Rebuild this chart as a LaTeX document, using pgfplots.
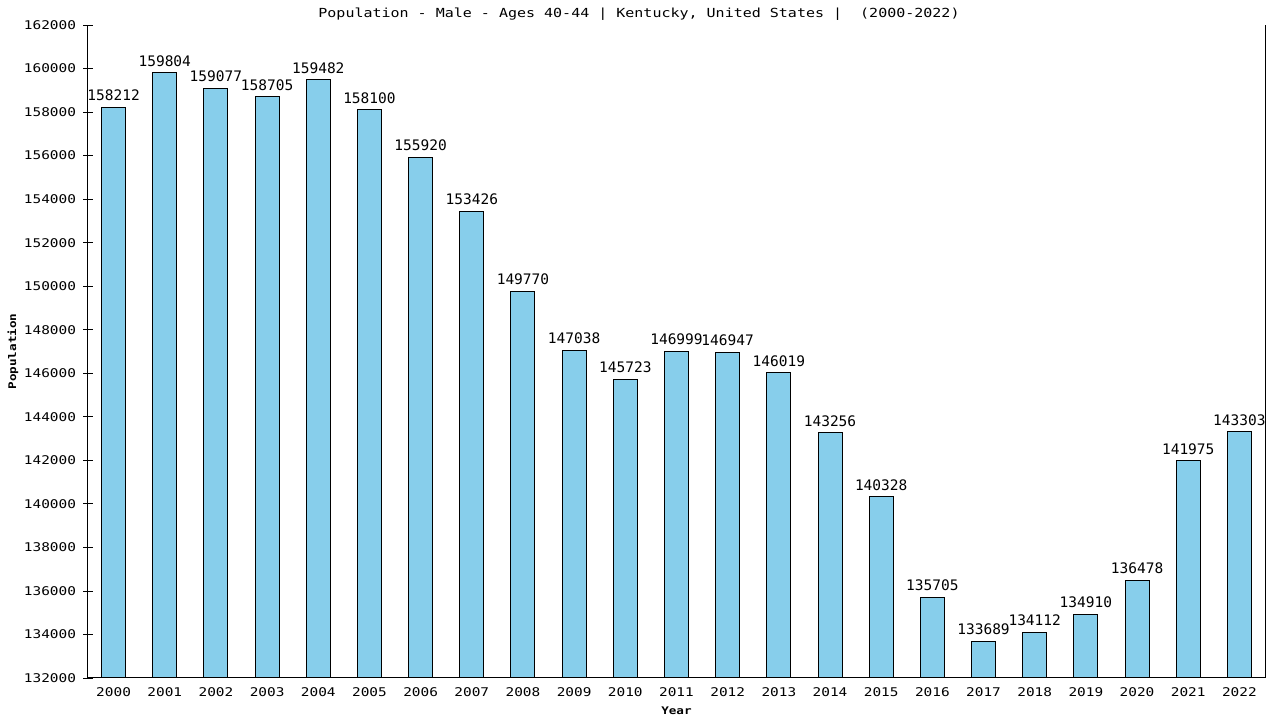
\documentclass[border=0pt]{standalone}
\usepackage{fontspec}
\setmainfont{DejaVu Sans Mono}[FakeStretch=1.2]
\newfontfamily\labfont{DejaVu Sans Mono}
\usepackage{pgfplots}
\pgfplotsset{compat=1.18}
\definecolor{barblue}{HTML}{87CEEB}
\begin{document}
\begin{tikzpicture}[x=1pt,y=1pt]
\useasboundingbox (0,0) rectangle (1280,720);
\begin{axis}[
  at={(88pt,42pt)}, anchor=south west,
  scale only axis, width=1177pt, height=653pt,
  xmin=-0.5, xmax=22.5, ymin=132000, ymax=162000,
  axis x line*=bottom, axis y line*=left,
  ybar, bar width=24pt,
  xtick=data,
  xticklabels={2000,2001,2002,2003,2004,2005,2006,2007,2008,2009,2010,2011,2012,2013,2014,2015,2016,2017,2018,2019,2020,2021,2022},
  ytick={132000,134000,...,162000},
  scaled y ticks=false,
  x tick style={draw=none},
  y tick style={black, line width=0.8pt},
  major tick length=9pt, tick align=center,
  axis line style={line width=1pt},
  tick label style={font=\fontsize{12}{12}\selectfont},
  yticklabel style={xshift=-4pt, /pgf/number format/.cd, fixed, precision=0, 1000 sep={}, assume math mode=true},
  xticklabel style={yshift=-2pt},
  ylabel={\bfseries Population},
  ylabel style={at={(axis description cs:-0.0637,0.5)}, anchor=center, font=\fontsize{10.5}{10.5}\selectfont},
  xlabel={\bfseries Year},
  xlabel style={at={(axis description cs:0.5,0)}, anchor=center, yshift=-33pt, font=\fontsize{10.5}{10.5}\selectfont},
  nodes near coords,
  nodes near coords style={font=\labfont\fontsize{14.5}{14.5}\selectfont, anchor=south, inner sep=0pt, yshift=6pt, black,
    /pgf/number format/.cd, fixed, precision=0, 1000 sep={}, assume math mode=true},
  clip=false,
]
\addplot[fill=barblue, draw=black, line width=1pt] coordinates {
(0,158212) (1,159804) (2,159077) (3,158705) (4,159482) (5,158100)
(6,155920) (7,153426) (8,149770) (9,147038) (10,145723) (11,146999)
(12,146947) (13,146019) (14,143256) (15,140328) (16,135705) (17,133689)
(18,134112) (19,134910) (20,136478) (21,141975) (22,143303)};
\draw[line width=1pt] (rel axis cs:1,0) -- (rel axis cs:1,1);
\end{axis}
\node[anchor=base, font=\fontsize{12.5}{12.5}\selectfont] at (639,702) {Population - Male - Ages 40-44 | Kentucky, United States |~~(2000-2022)};
\end{tikzpicture}
\end{document}
